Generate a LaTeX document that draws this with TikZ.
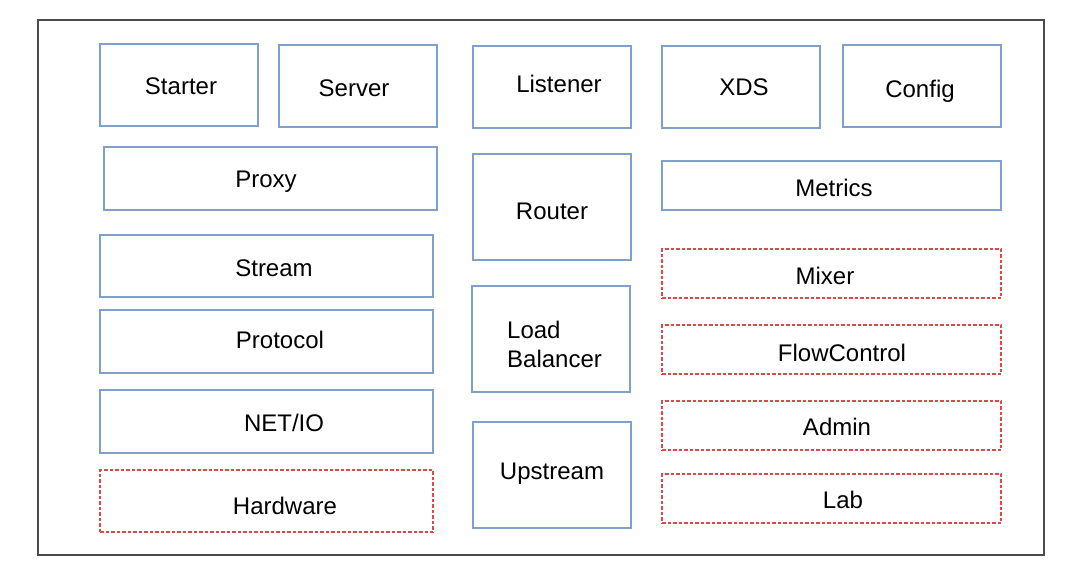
\documentclass[tikz,border=0pt]{standalone}
\usepackage{fontspec}
\setmainfont{Liberation Sans}
\definecolor{boxblue}{HTML}{809FC9}
\definecolor{boxred}{HTML}{E04848}
\definecolor{frame}{HTML}{4A4A4A}
\newcommand\mybox[7]{%
  \node[#2, minimum width={(#5)-(#3)}, minimum height={(#6)-(#4)}] (#1) at ({((#3)+(#5))/2},{((#4)+(#6))/2}) {};
}
\begin{document}
\begin{tikzpicture}[x=1pt,y=-1pt,
  bluebox/.style={draw=boxblue, line width=1.1pt, rectangle, inner sep=0pt, outer sep=0pt},
  redbox/.style={draw=boxred, line width=1.3pt, rectangle, inner sep=0pt, outer sep=0pt, dash pattern=on 3.5pt off 2pt},
  lbl/.style={font=\fontsize{24}{29}\selectfont, text=black, inner sep=0pt, align=left}]
\useasboundingbox (0,0) rectangle (1080,578);
\node[draw=frame, line width=1.3pt, minimum width=1006, minimum height=535, inner sep=0pt] (frame) at (541,287.5) {};
\mybox{starter}{bluebox}{100}{44}{258}{126}{}
\mybox{server}{bluebox}{279}{45}{437}{127}{}
\mybox{listener}{bluebox}{473}{46}{631}{128}{}
\mybox{xds}{bluebox}{662}{46}{820}{128}{}
\mybox{config}{bluebox}{843}{45}{1001}{127}{}
\mybox{proxy}{bluebox}{104}{147}{437}{210}{}
\mybox{router}{bluebox}{473}{154}{631}{260}{}
\mybox{metrics}{bluebox}{662}{161}{1001}{210}{}
\mybox{stream}{bluebox}{100}{235}{433}{297}{}
\mybox{protocol}{bluebox}{100}{310}{433}{373}{}
\mybox{netio}{bluebox}{100}{390}{433}{453}{}
\mybox{hardware}{redbox}{100}{470}{433}{532}{}
\mybox{lb}{bluebox}{472}{286}{630}{392}{}
\mybox{upstream}{bluebox}{473}{422}{631}{528}{}
\mybox{mixer}{redbox}{662}{249}{1001}{298}{}
\mybox{flow}{redbox}{662}{325}{1001}{374}{}
\mybox{admin}{redbox}{662}{401}{1001}{450}{}
\mybox{lab}{redbox}{662}{474}{1001}{523}{}
\node[lbl] (tstarter) at (181,86) {Starter};
\node[lbl] (tserver) at (354,88) {Server};
\node[lbl] (tlistener) at (559,84) {Listener};
\node[lbl] (txds) at (744,87) {XDS};
\node[lbl] (tconfig) at (920,91) {Config};
\node[lbl] (tproxy) at (266,182) {Proxy};
\node[lbl] (trouter) at (552,211) {Router};
\node[lbl] (tmetrics) at (834,188) {Metrics};
\node[lbl] (tstream) at (274,268) {Stream};
\node[lbl] (tprotocol) at (280,340) {Protocol};
\node[lbl] (tnetio) at (284,423) {NET/IO};
\node[lbl] (thardware) at (285,506) {Hardware};
\node[lbl, anchor=west] (tload) at (507,330) {Load};
\node[lbl, anchor=west] (tbal) at (507,359) {Balancer};
\node[lbl] (tupstream) at (552,474) {Upstream};
\node[lbl] (tmixer) at (825,276) {Mixer};
\node[lbl] (tflow) at (842,353) {FlowControl};
\node[lbl] (tadmin) at (837,427) {Admin};
\node[lbl] (tlab) at (843,500) {Lab};
\end{tikzpicture}
\end{document}
